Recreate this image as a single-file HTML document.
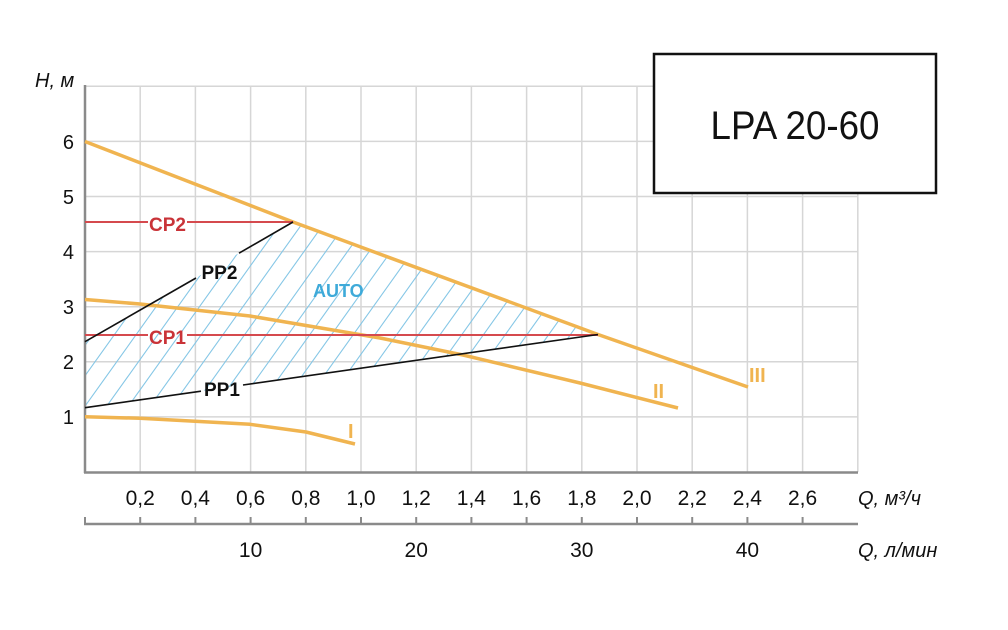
<!DOCTYPE html>
<html><head><meta charset="utf-8"><style>
html,body{margin:0;padding:0;background:#fff;width:1008px;height:630px;overflow:hidden;}
svg{display:block;}
text{font-family:"Liberation Sans",sans-serif;}
</style></head><body>
<svg width="1008" height="630" viewBox="0 0 1008 630" xmlns="http://www.w3.org/2000/svg" style="overflow:hidden">
<defs>
<clipPath id="auto"><path d="M85,341.7 L293,222 L598,334.5 L85,407.7 Z"/></clipPath>
</defs>
<rect width="1008" height="630" fill="#fff"/>
<!-- grid -->
<g stroke="#d6d6d6" stroke-width="1.5">
<line x1="140.2" y1="86.3" x2="140.2" y2="472"/>
<line x1="195.4" y1="86.3" x2="195.4" y2="472"/>
<line x1="250.6" y1="86.3" x2="250.6" y2="472"/>
<line x1="305.8" y1="86.3" x2="305.8" y2="472"/>
<line x1="361" y1="86.3" x2="361" y2="472"/>
<line x1="416.2" y1="86.3" x2="416.2" y2="472"/>
<line x1="471.4" y1="86.3" x2="471.4" y2="472"/>
<line x1="526.6" y1="86.3" x2="526.6" y2="472"/>
<line x1="581.8" y1="86.3" x2="581.8" y2="472"/>
<line x1="637" y1="86.3" x2="637" y2="472"/>
<line x1="692.2" y1="86.3" x2="692.2" y2="472"/>
<line x1="747.4" y1="86.3" x2="747.4" y2="472"/>
<line x1="802.6" y1="86.3" x2="802.6" y2="472"/>
<line x1="857.8" y1="86.3" x2="857.8" y2="472"/>
<line x1="85" y1="416.9" x2="858" y2="416.9"/>
<line x1="85" y1="361.8" x2="858" y2="361.8"/>
<line x1="85" y1="306.7" x2="858" y2="306.7"/>
<line x1="85" y1="251.6" x2="858" y2="251.6"/>
<line x1="85" y1="196.5" x2="858" y2="196.5"/>
<line x1="85" y1="141.4" x2="858" y2="141.4"/>
<line x1="85" y1="86.3" x2="858" y2="86.3"/>
</g>
<!-- hatch -->
<g clip-path="url(#auto)">
<path fill="none" stroke="#86c7e6" stroke-width="1.1" d="M80,352.4 L178.9,215 M80,382.8 L199.9,215 M80,413.2 L221.6,215 M100.4,415 L243.3,215 M122.1,415 L265,215 M143.9,415 L286.7,215 M165.6,415 L308.4,215 M187.3,415 L330.1,215 M209,415 L351.9,215 M230.7,415 L373.6,215 M252.4,415 L395.3,215 M274.1,415 L417,215 M295.9,415 L438.7,215 M317.6,415 L460.4,215 M339.3,415 L482.1,215 M361,415 L503.9,215 M382.7,415 L525.6,215 M404.4,415 L547.3,215 M426.1,415 L569,215 M447.9,415 L590.7,215 M469.6,415 L610,218.4 M491.3,415 L610,248.8 M513,415 L610,279.2 M534.7,415 L610,309.6"/>
</g>
<!-- axes -->
<g stroke="#8a8a8a" stroke-width="2.5" fill="none">
<line x1="85" y1="85" x2="85" y2="473"/>
<line x1="84" y1="472.5" x2="858" y2="472.5"/>
<line x1="84" y1="524" x2="858" y2="524"/>
</g>
<g stroke="#8a8a8a" stroke-width="2">
<line x1="85" y1="517" x2="85" y2="524"/>
<line x1="140.2" y1="517" x2="140.2" y2="524"/>
<line x1="195.4" y1="517" x2="195.4" y2="524"/>
<line x1="250.6" y1="517" x2="250.6" y2="524"/>
<line x1="305.8" y1="517" x2="305.8" y2="524"/>
<line x1="361" y1="517" x2="361" y2="524"/>
<line x1="416.2" y1="517" x2="416.2" y2="524"/>
<line x1="471.4" y1="517" x2="471.4" y2="524"/>
<line x1="526.6" y1="517" x2="526.6" y2="524"/>
<line x1="581.8" y1="517" x2="581.8" y2="524"/>
<line x1="637" y1="517" x2="637" y2="524"/>
<line x1="692.2" y1="517" x2="692.2" y2="524"/>
<line x1="747.4" y1="517" x2="747.4" y2="524"/>
<line x1="802.6" y1="517" x2="802.6" y2="524"/>
</g>
<!-- title box -->
<rect x="654" y="54" width="282" height="139" fill="#fff" stroke="#111" stroke-width="2.5"/>
<text x="795" y="139" font-size="40" text-anchor="middle" fill="#111" textLength="169" lengthAdjust="spacingAndGlyphs">LPA 20-60</text>
<!-- orange curves -->
<g fill="none" stroke="#f0b450" stroke-width="3.5" stroke-linejoin="round" stroke-linecap="butt">
<polyline points="85,141.5 293,222 598,334.5 748,387"/>
<polyline points="85,299.5 140,304 250,316 380,338 463,355 580,383 678,408"/>
<polyline points="85,416.7 140,418.3 250,424.3 306,432 355,444"/>
</g>
<!-- red lines -->
<g stroke="#d54a4e" stroke-width="2">
<line x1="85" y1="222" x2="148" y2="222"/>
<line x1="187" y1="222" x2="293" y2="222"/>
<line x1="85" y1="335" x2="148" y2="335"/>
<line x1="187" y1="335" x2="598" y2="335"/>
</g>
<!-- black lines -->
<g stroke="#111" stroke-width="1.6">
<line x1="85" y1="341.7" x2="196" y2="278"/>
<line x1="239" y1="253.2" x2="293" y2="222"/>
<line x1="85" y1="407.7" x2="201" y2="391.2"/>
<line x1="243" y1="385" x2="598" y2="334.5"/>
</g>
<!-- series labels -->
<g font-weight="bold" font-size="19">
<text x="167.5" y="231" text-anchor="middle" fill="#c93338">CP2</text>
<text x="167.5" y="344" text-anchor="middle" fill="#c93338">CP1</text>
<text x="201.5" y="279" fill="#111">PP2</text>
<text x="204" y="396" fill="#111">PP1</text>
</g>
<text x="313" y="297" font-weight="bold" font-size="18" fill="#3eaad9">AUTO</text>
<g font-weight="bold" font-size="20" fill="#f0b450">
<text x="348" y="438">I</text>
<text x="653" y="398">II</text>
<text x="749" y="382">III</text>
</g>
<!-- y labels -->
<g font-size="20" fill="#111" text-anchor="end">
<text x="74" y="424">1</text>
<text x="74" y="369">2</text>
<text x="74" y="314">3</text>
<text x="74" y="259">4</text>
<text x="74" y="204">5</text>
<text x="74" y="149">6</text>
</g>
<text x="35" y="87" font-size="20" font-style="italic" fill="#111">H, м</text>
<!-- x labels -->
<g font-size="21" fill="#111" text-anchor="middle">
<text x="140.2" y="505">0,2</text>
<text x="195.4" y="505">0,4</text>
<text x="250.6" y="505">0,6</text>
<text x="305.8" y="505">0,8</text>
<text x="361" y="505">1,0</text>
<text x="416.2" y="505">1,2</text>
<text x="471.4" y="505">1,4</text>
<text x="526.6" y="505">1,6</text>
<text x="581.8" y="505">1,8</text>
<text x="637" y="505">2,0</text>
<text x="692.2" y="505">2,2</text>
<text x="747.4" y="505">2,4</text>
<text x="802.6" y="505">2,6</text>
<text x="250.6" y="557">10</text>
<text x="416.2" y="557">20</text>
<text x="581.8" y="557">30</text>
<text x="747.4" y="557">40</text>
</g>
<text x="858" y="505" font-size="20" font-style="italic" fill="#111">Q, м³/ч</text>
<text x="858" y="557" font-size="20" font-style="italic" fill="#111">Q, л/мин</text>
</svg>
</body></html>
